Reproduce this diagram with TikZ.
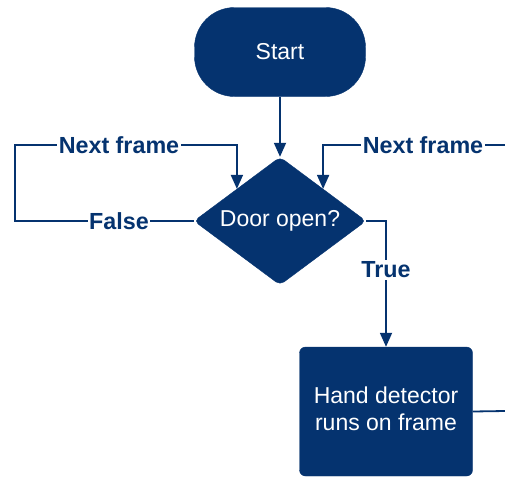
\documentclass[tikz,border=0pt]{standalone}
\usepackage{fontspec}
\setmainfont{Liberation Sans}
\usetikzlibrary{shapes.geometric,arrows.meta}
\definecolor{navy}{RGB}{5,51,111}
\tikzset{
  shapebox/.style={fill=navy, draw=navy, text=white, inner sep=0pt,
    font=\fontsize{23}{27}\selectfont},
  conn/.style={draw=navy, line width=1.8pt},
  arr/.style={conn, -{Triangle[length=14pt,width=12pt]}},
  lbl/.style={fill=white, text=navy, inner sep=1.5pt,
    font=\fontsize{23.3}{27}\selectfont\bfseries}
}
\begin{document}
\begin{tikzpicture}[x=1pt,y=-1pt]
\useasboundingbox (0,0) rectangle (505,477);
\node[shapebox, rectangle, rounded corners=40pt, minimum width=171pt, minimum height=89pt] (start) at (280,52) {Start};
\node[shapebox, diamond, aspect=1.34, rounded corners=5pt, minimum width=172pt, minimum height=128pt] (dia) at (280,221) {Door open?};
\node[shapebox, rectangle, rounded corners=6pt, minimum width=173pt, minimum height=129pt] (hand) at (386,411.5) {};
\node[text=white, align=center, inner sep=0pt, font=\fontsize{23}{27}\selectfont] (handtxt) at (386,408.5) {Hand detector\\runs on frame};
\coordinate (rin) at (505,145);
\coordinate (rout) at (505,411);
\draw[arr] (start.south) -- (dia.north);
\draw[arr] (dia.west) -- (15,221) -- (15,145) -- (dia.north west |- 0,145) -- (dia.north west);
\draw[arr] (rin) -- (dia.north east |- 0,145) -- (dia.north east);
\draw[arr] (dia.east) -- (386,221) -- (hand.north);
\draw[conn] (hand.east) -- (rout);
\node[lbl] (nf1) at (119,145) {Next frame};
\node[lbl] (fl) at (119,221) {False};
\node[lbl] (nf2) at (423,145) {Next frame};
\node[lbl] (tr) at (386,270) {True};
\end{tikzpicture}
\end{document}
